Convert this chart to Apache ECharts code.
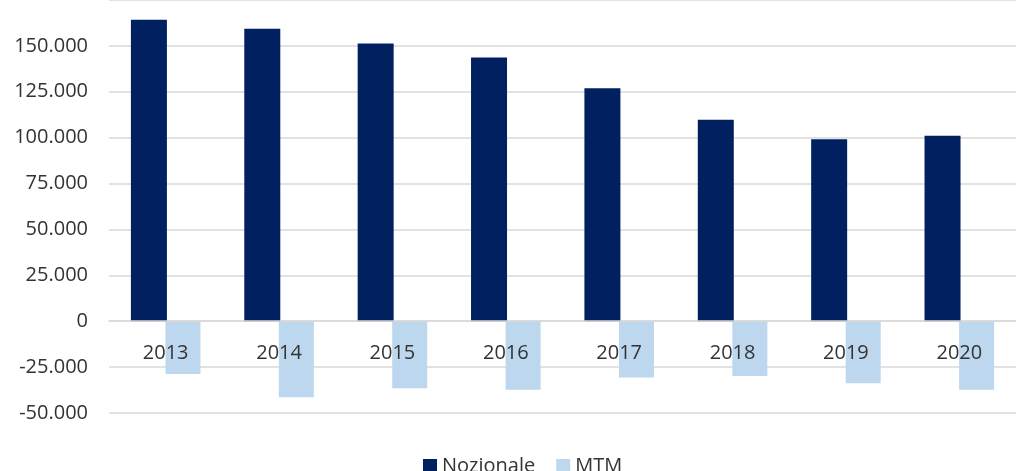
<!DOCTYPE html>
<html style="height: 100%">
<head>
<meta charset="utf-8">
<script src="https://cdn.jsdelivr.net/npm/echarts@6/dist/echarts.min.js"></script>
</head>
<body style="height: 100%; margin: 0; background: #fff">
<div id="container" style="width: 1016px; height: 471px"></div>
<script>
var years = ['2013', '2014', '2015', '2016', '2017', '2018', '2019', '2020'];
var nozionale = [164300, 159300, 151300, 143700, 126900, 109700, 99100, 101000];
var mtm = [-28700, -41400, -36500, -37400, -30700, -29800, -33800, -37400];

var chart = echarts.init(document.getElementById('container'));

function fmt(v) {
    if (v === 0) return '0';
    var s = Math.abs(v).toString().replace(/\B(?=(\d{3})+(?!\d))/g, '.');
    return (v < 0 ? '-' : '') + s;
}

var option = {
    animation: false,
    textStyle: { fontFamily: 'Open Sans' },
    grid: { left: 109, top: -2, width: 919, height: 415 },
    legend: {
        left: 418,
        top: 451,
        itemWidth: 14,
        itemHeight: 14,
        itemGap: 21,
        icon: 'rect',
        textStyle: { fontSize: 20, color: '#333', fontFamily: 'Open Sans' },
        data: ['Nozionale', 'MTM']
    },
    xAxis: {
        type: 'category',
        data: years,
        position: 'bottom',
        offset: -92,
        z: 10,
        axisLine: { onZero: false, lineStyle: { color: '#d9d9d9', width: 1.5 } },
        axisTick: { show: false },
        splitLine: { show: false },
        axisLabel: { margin: 22, fontSize: 20, color: '#333', fontFamily: 'Open Sans' }
    },
    yAxis: {
        type: 'value',
        min: -50000,
        max: 175000,
        interval: 25000,
        axisLine: { show: false, onZero: false },
        axisTick: { show: false },
        splitLine: { lineStyle: { color: '#d9d9d9', width: 1.5 } },
        axisLabel: {
            margin: 21,
            fontSize: 20,
            color: '#333',
            fontFamily: 'Open Sans',
            formatter: function (v) { return v >= 175000 ? '' : fmt(v); }
        }
    },
    series: [{
        name: 'Nozionale',
        type: 'bar',
        data: nozionale,
        barWidth: 36,
        barGap: '-4%',
        z: 2,
        itemStyle: { color: '#002060' }
    }, {
        name: 'MTM',
        type: 'bar',
        data: mtm,
        barWidth: 35,
        z: 1,
        itemStyle: { color: '#bdd7ee' }
    }]
};

chart.setOption(option);
</script>
</body>
</html>
